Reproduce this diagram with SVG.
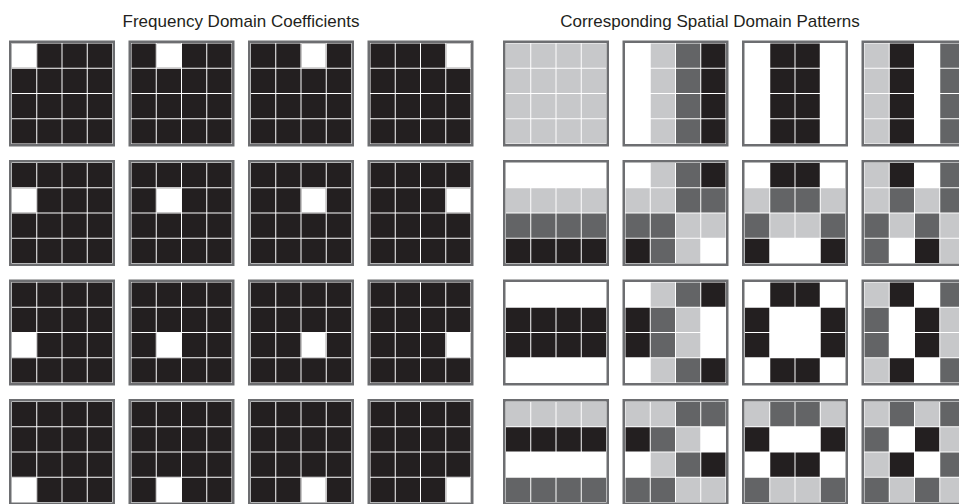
<svg xmlns="http://www.w3.org/2000/svg" xmlns:xlink="http://www.w3.org/1999/xlink" width="959" height="504" viewBox="0 0 959 504">
<style>
.title{font-family:"Liberation Sans",Arial,Helvetica,sans-serif;font-size:17px;fill:#231f20;text-anchor:middle}
.fr{fill:#ffffff;stroke:#6d6e71;stroke-width:2.5}
.b{fill:#231f20}.d{fill:#636466}.l{fill:#c7c8ca}.w{fill:#ffffff}
</style>
<defs>
<rect id="B" class="b" width="24.25" height="24.25"/>
<rect id="D" class="d" width="24.25" height="24.25"/>
<rect id="L" class="l" width="24.25" height="24.25"/>
<rect id="W" class="w" width="24.25" height="24.25"/>
<rect id="frame" class="fr" x="1.25" y="1.25" width="103.5" height="103.5"/>
<g id="fq">
<use href="#frame"/>
<use href="#B" x="3" y="3"/><use href="#B" x="28.25" y="3"/><use href="#B" x="53.5" y="3"/><use href="#B" x="78.75" y="3"/>
<use href="#B" x="3" y="28.25"/><use href="#B" x="28.25" y="28.25"/><use href="#B" x="53.5" y="28.25"/><use href="#B" x="78.75" y="28.25"/>
<use href="#B" x="3" y="53.5"/><use href="#B" x="28.25" y="53.5"/><use href="#B" x="53.5" y="53.5"/><use href="#B" x="78.75" y="53.5"/>
<use href="#B" x="3" y="78.75"/><use href="#B" x="28.25" y="78.75"/><use href="#B" x="53.5" y="78.75"/><use href="#B" x="78.75" y="78.75"/>
</g>
</defs>
<rect width="959" height="504" fill="#ffffff"/>
<text class="title" x="241" y="27">Frequency Domain Coefficients</text>
<text class="title" x="710" y="27">Corresponding Spatial Domain Patterns</text>

<g id="connectors"/>

<g id="frequency">
<g id="f00" transform="translate(9,40.5)"><use href="#fq"/><use href="#W" x="3" y="3"/></g>
<g id="f01" transform="translate(128.5,40.5)"><use href="#fq"/><use href="#W" x="28.25" y="3"/></g>
<g id="f02" transform="translate(248,40.5)"><use href="#fq"/><use href="#W" x="53.5" y="3"/></g>
<g id="f03" transform="translate(367.5,40.5)"><use href="#fq"/><use href="#W" x="78.75" y="3"/></g>
<g id="f10" transform="translate(9,160)"><use href="#fq"/><use href="#W" x="3" y="28.25"/></g>
<g id="f11" transform="translate(128.5,160)"><use href="#fq"/><use href="#W" x="28.25" y="28.25"/></g>
<g id="f12" transform="translate(248,160)"><use href="#fq"/><use href="#W" x="53.5" y="28.25"/></g>
<g id="f13" transform="translate(367.5,160)"><use href="#fq"/><use href="#W" x="78.75" y="28.25"/></g>
<g id="f20" transform="translate(9,279.5)"><use href="#fq"/><use href="#W" x="3" y="53.5"/></g>
<g id="f21" transform="translate(128.5,279.5)"><use href="#fq"/><use href="#W" x="28.25" y="53.5"/></g>
<g id="f22" transform="translate(248,279.5)"><use href="#fq"/><use href="#W" x="53.5" y="53.5"/></g>
<g id="f23" transform="translate(367.5,279.5)"><use href="#fq"/><use href="#W" x="78.75" y="53.5"/></g>
<g id="f30" transform="translate(9,399)"><use href="#fq"/><use href="#W" x="3" y="78.75"/></g>
<g id="f31" transform="translate(128.5,399)"><use href="#fq"/><use href="#W" x="28.25" y="78.75"/></g>
<g id="f32" transform="translate(248,399)"><use href="#fq"/><use href="#W" x="53.5" y="78.75"/></g>
<g id="f33" transform="translate(367.5,399)"><use href="#fq"/><use href="#W" x="78.75" y="78.75"/></g>
</g>

<g id="spatial">
<g id="s00" transform="translate(503,40.5)"><use href="#frame"/>
<use href="#L" x="3" y="3"/><use href="#L" x="28.25" y="3"/><use href="#L" x="53.5" y="3"/><use href="#L" x="78.75" y="3"/>
<use href="#L" x="3" y="28.25"/><use href="#L" x="28.25" y="28.25"/><use href="#L" x="53.5" y="28.25"/><use href="#L" x="78.75" y="28.25"/>
<use href="#L" x="3" y="53.5"/><use href="#L" x="28.25" y="53.5"/><use href="#L" x="53.5" y="53.5"/><use href="#L" x="78.75" y="53.5"/>
<use href="#L" x="3" y="78.75"/><use href="#L" x="28.25" y="78.75"/><use href="#L" x="53.5" y="78.75"/><use href="#L" x="78.75" y="78.75"/>
</g>
<g id="s01" transform="translate(622.5,40.5)"><use href="#frame"/>
<use href="#L" x="28.25" y="3"/><use href="#D" x="53.5" y="3"/><use href="#B" x="78.75" y="3"/>
<use href="#L" x="28.25" y="28.25"/><use href="#D" x="53.5" y="28.25"/><use href="#B" x="78.75" y="28.25"/>
<use href="#L" x="28.25" y="53.5"/><use href="#D" x="53.5" y="53.5"/><use href="#B" x="78.75" y="53.5"/>
<use href="#L" x="28.25" y="78.75"/><use href="#D" x="53.5" y="78.75"/><use href="#B" x="78.75" y="78.75"/>
</g>
<g id="s02" transform="translate(742,40.5)"><use href="#frame"/>
<use href="#B" x="28.25" y="3"/><use href="#B" x="53.5" y="3"/>
<use href="#B" x="28.25" y="28.25"/><use href="#B" x="53.5" y="28.25"/>
<use href="#B" x="28.25" y="53.5"/><use href="#B" x="53.5" y="53.5"/>
<use href="#B" x="28.25" y="78.75"/><use href="#B" x="53.5" y="78.75"/>
</g>
<g id="s03" transform="translate(861.5,40.5)"><use href="#frame"/>
<use href="#L" x="3" y="3"/><use href="#B" x="28.25" y="3"/><use href="#D" x="78.75" y="3"/>
<use href="#L" x="3" y="28.25"/><use href="#B" x="28.25" y="28.25"/><use href="#D" x="78.75" y="28.25"/>
<use href="#L" x="3" y="53.5"/><use href="#B" x="28.25" y="53.5"/><use href="#D" x="78.75" y="53.5"/>
<use href="#L" x="3" y="78.75"/><use href="#B" x="28.25" y="78.75"/><use href="#D" x="78.75" y="78.75"/>
</g>

<g id="s10" transform="translate(503,160)"><use href="#frame"/>
<use href="#L" x="3" y="28.25"/><use href="#L" x="28.25" y="28.25"/><use href="#L" x="53.5" y="28.25"/><use href="#L" x="78.75" y="28.25"/>
<use href="#D" x="3" y="53.5"/><use href="#D" x="28.25" y="53.5"/><use href="#D" x="53.5" y="53.5"/><use href="#D" x="78.75" y="53.5"/>
<use href="#B" x="3" y="78.75"/><use href="#B" x="28.25" y="78.75"/><use href="#B" x="53.5" y="78.75"/><use href="#B" x="78.75" y="78.75"/>
</g>
<g id="s11" transform="translate(622.5,160)"><use href="#frame"/>
<use href="#L" x="28.25" y="3"/><use href="#D" x="53.5" y="3"/><use href="#B" x="78.75" y="3"/>
<use href="#L" x="3" y="28.25"/><use href="#L" x="28.25" y="28.25"/><use href="#D" x="53.5" y="28.25"/><use href="#D" x="78.75" y="28.25"/>
<use href="#D" x="3" y="53.5"/><use href="#D" x="28.25" y="53.5"/><use href="#L" x="53.5" y="53.5"/><use href="#L" x="78.75" y="53.5"/>
<use href="#B" x="3" y="78.75"/><use href="#D" x="28.25" y="78.75"/><use href="#L" x="53.5" y="78.75"/>
</g>
<g id="s12" transform="translate(742,160)"><use href="#frame"/>
<use href="#B" x="28.25" y="3"/><use href="#B" x="53.5" y="3"/>
<use href="#L" x="3" y="28.25"/><use href="#D" x="28.25" y="28.25"/><use href="#D" x="53.5" y="28.25"/><use href="#L" x="78.75" y="28.25"/>
<use href="#D" x="3" y="53.5"/><use href="#L" x="28.25" y="53.5"/><use href="#L" x="53.5" y="53.5"/><use href="#D" x="78.75" y="53.5"/>
<use href="#B" x="3" y="78.75"/><use href="#B" x="78.75" y="78.75"/>
</g>
<g id="s13" transform="translate(861.5,160)"><use href="#frame"/>
<use href="#L" x="3" y="3"/><use href="#B" x="28.25" y="3"/><use href="#D" x="78.75" y="3"/>
<use href="#L" x="3" y="28.25"/><use href="#D" x="28.25" y="28.25"/><use href="#L" x="53.5" y="28.25"/><use href="#D" x="78.75" y="28.25"/>
<use href="#D" x="3" y="53.5"/><use href="#L" x="28.25" y="53.5"/><use href="#D" x="53.5" y="53.5"/><use href="#L" x="78.75" y="53.5"/>
<use href="#D" x="3" y="78.75"/><use href="#B" x="53.5" y="78.75"/><use href="#L" x="78.75" y="78.75"/>
</g>

<g id="s20" transform="translate(503,279.5)"><use href="#frame"/>
<use href="#B" x="3" y="28.25"/><use href="#B" x="28.25" y="28.25"/><use href="#B" x="53.5" y="28.25"/><use href="#B" x="78.75" y="28.25"/>
<use href="#B" x="3" y="53.5"/><use href="#B" x="28.25" y="53.5"/><use href="#B" x="53.5" y="53.5"/><use href="#B" x="78.75" y="53.5"/>
</g>
<g id="s21" transform="translate(622.5,279.5)"><use href="#frame"/>
<use href="#L" x="28.25" y="3"/><use href="#D" x="53.5" y="3"/><use href="#B" x="78.75" y="3"/>
<use href="#B" x="3" y="28.25"/><use href="#D" x="28.25" y="28.25"/><use href="#L" x="53.5" y="28.25"/>
<use href="#B" x="3" y="53.5"/><use href="#D" x="28.25" y="53.5"/><use href="#L" x="53.5" y="53.5"/>
<use href="#L" x="28.25" y="78.75"/><use href="#D" x="53.5" y="78.75"/><use href="#B" x="78.75" y="78.75"/>
</g>
<g id="s22" transform="translate(742,279.5)"><use href="#frame"/>
<use href="#B" x="28.25" y="3"/><use href="#B" x="53.5" y="3"/>
<use href="#B" x="3" y="28.25"/><use href="#B" x="78.75" y="28.25"/>
<use href="#B" x="3" y="53.5"/><use href="#B" x="78.75" y="53.5"/>
<use href="#B" x="28.25" y="78.75"/><use href="#B" x="53.5" y="78.75"/>
</g>
<g id="s23" transform="translate(861.5,279.5)"><use href="#frame"/>
<use href="#L" x="3" y="3"/><use href="#B" x="28.25" y="3"/><use href="#D" x="78.75" y="3"/>
<use href="#D" x="3" y="28.25"/><use href="#B" x="53.5" y="28.25"/><use href="#L" x="78.75" y="28.25"/>
<use href="#D" x="3" y="53.5"/><use href="#B" x="53.5" y="53.5"/><use href="#L" x="78.75" y="53.5"/>
<use href="#L" x="3" y="78.75"/><use href="#B" x="28.25" y="78.75"/><use href="#D" x="78.75" y="78.75"/>
</g>

<g id="s30" transform="translate(503,399)"><use href="#frame"/>
<use href="#L" x="3" y="3"/><use href="#L" x="28.25" y="3"/><use href="#L" x="53.5" y="3"/><use href="#L" x="78.75" y="3"/>
<use href="#B" x="3" y="28.25"/><use href="#B" x="28.25" y="28.25"/><use href="#B" x="53.5" y="28.25"/><use href="#B" x="78.75" y="28.25"/>
<use href="#D" x="3" y="78.75"/><use href="#D" x="28.25" y="78.75"/><use href="#D" x="53.5" y="78.75"/><use href="#D" x="78.75" y="78.75"/>
</g>
<g id="s31" transform="translate(622.5,399)"><use href="#frame"/>
<use href="#L" x="3" y="3"/><use href="#L" x="28.25" y="3"/><use href="#D" x="53.5" y="3"/><use href="#D" x="78.75" y="3"/>
<use href="#B" x="3" y="28.25"/><use href="#D" x="28.25" y="28.25"/><use href="#L" x="53.5" y="28.25"/>
<use href="#L" x="28.25" y="53.5"/><use href="#D" x="53.5" y="53.5"/><use href="#B" x="78.75" y="53.5"/>
<use href="#D" x="3" y="78.75"/><use href="#D" x="28.25" y="78.75"/><use href="#L" x="53.5" y="78.75"/><use href="#L" x="78.75" y="78.75"/>
</g>
<g id="s32" transform="translate(742,399)"><use href="#frame"/>
<use href="#L" x="3" y="3"/><use href="#D" x="28.25" y="3"/><use href="#D" x="53.5" y="3"/><use href="#L" x="78.75" y="3"/>
<use href="#B" x="3" y="28.25"/><use href="#B" x="78.75" y="28.25"/>
<use href="#B" x="28.25" y="53.5"/><use href="#B" x="53.5" y="53.5"/>
<use href="#D" x="3" y="78.75"/><use href="#L" x="28.25" y="78.75"/><use href="#L" x="53.5" y="78.75"/><use href="#D" x="78.75" y="78.75"/>
</g>
<g id="s33" transform="translate(861.5,399)"><use href="#frame"/>
<use href="#L" x="3" y="3"/><use href="#D" x="28.25" y="3"/><use href="#L" x="53.5" y="3"/><use href="#D" x="78.75" y="3"/>
<use href="#D" x="3" y="28.25"/><use href="#B" x="53.5" y="28.25"/><use href="#L" x="78.75" y="28.25"/>
<use href="#L" x="3" y="53.5"/><use href="#B" x="28.25" y="53.5"/><use href="#D" x="78.75" y="53.5"/>
<use href="#D" x="3" y="78.75"/><use href="#L" x="28.25" y="78.75"/><use href="#D" x="53.5" y="78.75"/><use href="#L" x="78.75" y="78.75"/>
</g>
</g>
</svg>
